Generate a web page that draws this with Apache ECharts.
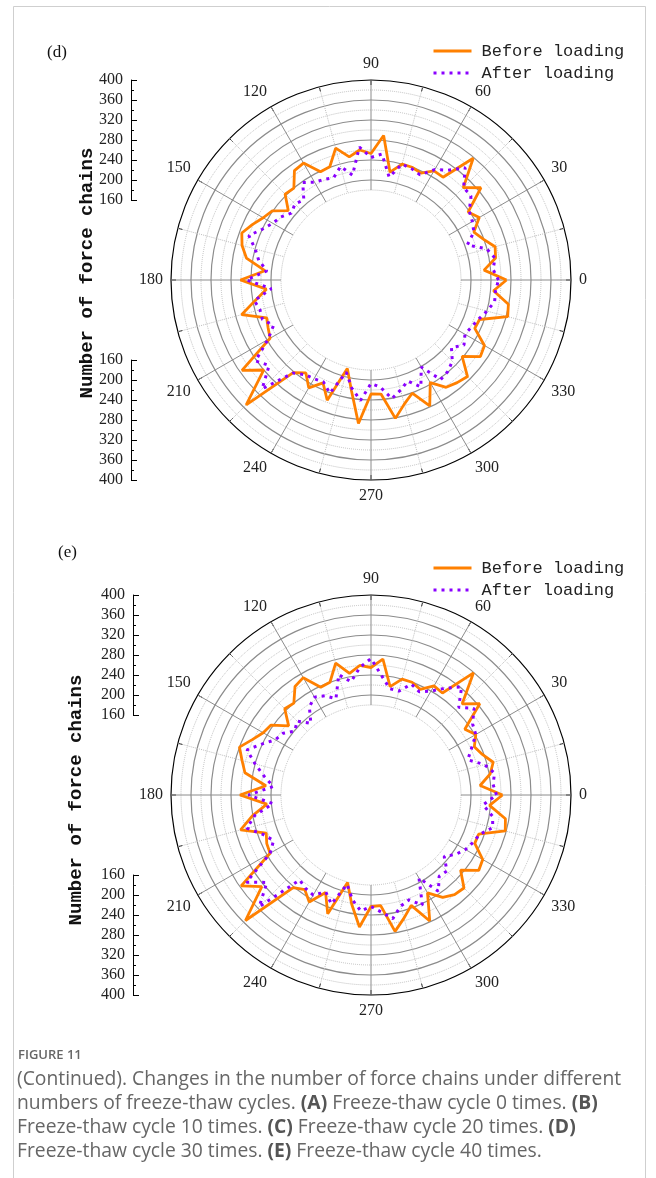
<!DOCTYPE html>
<html>
<head>
<meta charset="utf-8">
<script src="https://cdn.jsdelivr.net/npm/echarts@6/dist/echarts.min.js"></script>
<style>
  html, body { margin: 0; padding: 0; background: #fff; }
  #chart { width: 656px; height: 1178px; }
</style>
</head>
<body>
<div id="chart"></div>
<script>
// angles in degrees, one reading every 5 degrees
const angles = [0, 5, 10, 15, 20, 25, 30, 35, 40, 45, 50, 55, 60, 65, 70, 75, 80, 85,
  90, 95, 100, 105, 110, 115, 120, 125, 130, 135, 140, 145, 150, 155, 160, 165, 170, 175,
  180, 185, 190, 195, 200, 205, 210, 215, 220, 225, 230, 235, 240, 245, 250, 255, 260, 265,
  270, 275, 280, 285, 290, 295, 300, 305, 310, 315, 320, 325, 330, 335, 340, 345, 350, 355]

// (d) freeze-thaw 30 times
const dBefore = [271, 227, 253, 257, 239, 227, 250, 237, 287, 261, 318, 251, 252, 236, 240, 240, 219, 290,
  253, 261, 250, 273, 241, 239, 270, 267, 240, 243, 216, 241, 249, 262, 275, 267, 253, 213,
  261, 210, 235, 268, 222, 227, 233, 315, 280, 353, 242, 227, 249, 227, 256, 183, 225, 288,
  228, 229, 281, 257, 241, 278, 237, 262, 268, 273, 238, 267, 262, 229, 231, 283, 279, 246]
const dAfter = [255, 245, 252, 240, 205, 227, 234, 240, 261, 262, 293, 268, 255, 232, 237, 240, 209, 253,
  245, 267, 213, 235, 218, 222, 226, 238, 209, 215, 208, 220, 227, 240, 260, 240, 228, 209,
  249, 200, 237, 230, 231, 215, 238, 282, 266, 308, 243, 231, 228, 225, 241, 191, 220, 242,
  207, 215, 241, 228, 215, 236, 201, 243, 239, 230, 210, 227, 217, 222, 229, 240, 251, 250]

// (e) freeze-thaw 40 times
const eBefore = [263, 219, 242, 253, 237, 228, 242, 229, 284, 258, 319, 249, 252, 233, 240, 240, 220, 273,
  255, 260, 247, 273, 240, 238, 271, 265, 240, 244, 215, 244, 249, 262, 280, 267, 256, 211,
  262, 209, 241, 270, 223, 230, 233, 317, 285, 355, 242, 231, 247, 215, 253, 181, 222, 265,
  223, 222, 277, 255, 235, 278, 226, 250, 260, 263, 234, 263, 258, 229, 229, 278, 273, 238]
const eAfter = [251, 245, 251, 235, 206, 222, 242, 248, 269, 248, 282, 261, 240, 228, 236, 215, 216, 240,
  273, 256, 230, 249, 205, 219, 226, 215, 187, 209, 199, 215, 221, 241, 264, 240, 217, 196,
  245, 197, 236, 257, 230, 215, 233, 304, 272, 316, 222, 228, 231, 214, 232, 185, 213, 233,
  223, 235, 251, 230, 223, 243, 192, 235, 212, 215, 191, 207, 218, 225, 231, 252, 247, 225]

const names = ['Before loading', 'After loading']
const panels = [
  { tag: '(d)', cy: 280, before: dBefore, after: dAfter },
  { tag: '(e)', cy: 795, before: eBefore, after: eAfter }
]

const serif = 'Liberation Serif'
const mono = 'Liberation Mono'
const gridGray = '#8c8c8c'
const dotGray = '#bdbdbd'
const none = 'rgba(0,0,0,0)'

// circles every 20 from 180 to 400: dotted ones at 180, 220 ... 380, solid at 200 ... 360, black rim at 400
const dottedRing = [], solidRing = []
for (let i = 0; i < 12; i++) {
  dottedRing.push(i % 2 === 0 && i < 11 ? dotGray : none)
  solidRing.push(i === 11 ? '#000' : (i % 2 === 1 ? gridGray : none))
}

function toPolar(vals) {
  const pts = angles.map((a, i) => [vals[i], a])
  pts.push([vals[0], 360])
  return pts
}

const chart = echarts.init(document.getElementById('chart'))

const polar = [], angleAxis = [], radiusAxis = [], series = []
const grid = [], xAxis = [], yAxis = [], legend = [], graphic = []

panels.forEach((p, k) => {
  // two polar systems on the same spot: one for dotted rings + spokes + data, one for solid rings
  ;[0, 1].forEach((layer) => {
    const pi = polar.length
    polar.push({ center: [371, p.cy], radius: [90, 200] })
    angleAxis.push({
      polarIndex: pi, type: 'value', min: 0, max: 360, interval: 30,
      startAngle: 0, clockwise: false,
      axisLine: { show: false },
      axisTick: { show: layer === 0, inside: true, length: 5, lineStyle: { color: '#000' } },
      minorTick: { show: layer === 0, splitNumber: 2, length: 5, lineStyle: { color: '#000' } },
      axisLabel: { show: layer === 0, fontFamily: serif, fontSize: 16, color: '#222', margin: 8,
        formatter: v => (v === 360 ? '' : v) },
      splitLine: { show: layer === 0, lineStyle: { color: gridGray, width: 1 } },
      minorSplitLine: { show: layer === 0, lineStyle: { color: dotGray, type: 'dotted' } }
    })
    radiusAxis.push({
      polarIndex: pi, type: 'value', min: 180, max: 400, interval: 20,
      axisLine: { show: false }, axisTick: { show: false }, axisLabel: { show: false },
      splitLine: { lineStyle: layer === 0
        ? { color: dottedRing, type: 'dotted', width: 1 }
        : { color: solidRing, width: 1.2 } }
    })
  })
  const pi = polar.length - 2
  series.push({
    name: names[0], type: 'line', coordinateSystem: 'polar', polarIndex: pi,
    symbol: 'none', z: 3,
    lineStyle: { color: '#ff8000', width: 2.8 }, itemStyle: { color: '#ff8000' },
    data: toPolar(p.before)
  })
  series.push({
    name: names[1], type: 'line', coordinateSystem: 'polar', polarIndex: pi,
    symbol: 'none', z: 4,
    lineStyle: { color: '#8a00ff', width: 3, type: [3, 5] }, itemStyle: { color: '#8a00ff' },
    data: toPolar(p.after)
  })

  // radial scale drawn beside the plot, upper half and lower half
  const axisX = k === 0 ? 131 : 133
  ;[false, true].forEach((inv) => {
    const gi = grid.length
    grid.push({ left: axisX, top: inv ? p.cy + 80 : p.cy - 200, width: 10, height: 120 })
    xAxis.push({ gridIndex: gi, type: 'value', show: false })
    yAxis.push({
      gridIndex: gi, type: 'value', min: 160, max: 400, interval: 40, inverse: inv,
      axisLine: { show: true, lineStyle: { color: '#000', width: 1 } },
      axisTick: { show: true, inside: true, length: 6, lineStyle: { color: '#000' } },
      minorTick: { show: true, splitNumber: 2, length: 3, lineStyle: { color: '#000' } },
      axisLabel: { fontFamily: serif, fontSize: 16, color: '#222', margin: 8 },
      splitLine: { show: false }
    })
  })

  legend.push({
    data: names, orient: 'vertical', left: 427, top: k === 0 ? 37 : 554,
    itemWidth: 38, itemHeight: 12, itemGap: 4,
    itemStyle: { opacity: 0 },
    lineStyle: { width: 3 },
    textStyle: { fontFamily: mono, fontSize: 17, color: '#222', lineHeight: 18, padding: [0, 0, 0, 5] }
  })

  graphic.push({
    type: 'text', left: k === 0 ? 47 : 58, top: k === 0 ? 44 : 544,
    style: { text: p.tag, font: '17px "Liberation Serif"', fill: '#111' }
  })
  graphic.push({
    type: 'text', x: k === 0 ? 87 : 76, y: k === 0 ? 273 : 800, rotation: Math.PI / 2,
    style: { text: 'Number of force chains', font: 'bold 19px "Liberation Mono"', fill: '#111',
      align: 'center', verticalAlign: 'middle' }
  })
})

// page frame and caption
graphic.push({
  type: 'rect', shape: { x: 13.5, y: 6.5, width: 632, height: 1200 },
  style: { fill: 'none', stroke: '#cfcfcf', lineWidth: 1 }, silent: true
})
graphic.push({
  type: 'text', left: 18, top: 1049,
  style: { text: 'FIGURE 11', font: '600 13px "Open Sans"', fill: '#666' }
})
const capRich = { b: { fontWeight: 'bold', fontFamily: 'Open Sans', fontSize: 19.3, fill: '#555' } }
const capLines = [
  '(Continued). Changes in the number of force chains under different',
  'numbers of freeze-thaw cycles. {b|(A)} Freeze-thaw cycle 0 times. {b|(B)}',
  'Freeze-thaw cycle 10 times. {b|(C)} Freeze-thaw cycle 20 times. {b|(D)}',
  'Freeze-thaw cycle 30 times. {b|(E)} Freeze-thaw cycle 40 times.'
]
capLines.forEach((t, i) => {
  graphic.push({
    type: 'text', left: 17, top: 1070 + i * 24,
    style: { text: t, font: '19.3px "Open Sans"', fill: '#666', rich: capRich }
  })
})

chart.setOption({
  animation: false,
  polar, angleAxis, radiusAxis, grid, xAxis, yAxis, legend, series, graphic
})
</script>
</body>
</html>
